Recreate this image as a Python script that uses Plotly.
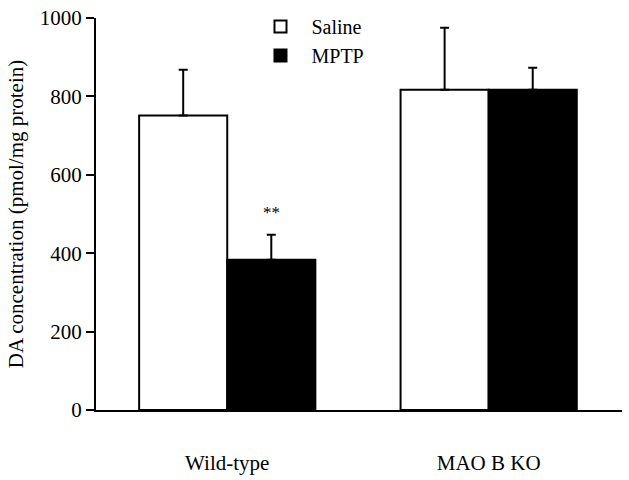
import plotly.graph_objects as go

groups = ["Wild-type", "MAO B KO"]
saline_mean = [751, 817]
saline_se = [117, 158]
mptp_mean = [383, 817]
mptp_se = [64, 56]
sig_labels = ["**", ""]

FONT = "Liberation Serif, Times New Roman, serif"

fig = go.Figure()
fig.add_trace(go.Bar(
    name="Saline", x=groups, y=saline_mean,
    marker=dict(color="white", line=dict(color="black", width=2)),
    error_y=dict(type="data", array=saline_se, arrayminus=[0, 0], symmetric=False,
                 color="black", thickness=2, width=4.5),
))
fig.add_trace(go.Bar(
    name="MPTP", x=groups, y=mptp_mean,
    marker=dict(color="black", line=dict(color="black", width=2)),
    error_y=dict(type="data", array=mptp_se, arrayminus=[0, 0], symmetric=False,
                 color="black", thickness=2, width=4.5),
))

bargap = 0.326
bw = (1 - bargap) / 2
for i, lab in enumerate(sig_labels):
    if lab:
        fig.add_annotation(x=i + bw / 2, y=mptp_mean[i] + mptp_se[i], text=lab,
                           showarrow=False, yanchor="bottom", yshift=11,
                           font=dict(family=FONT, size=17, color="black"))

fig.update_layout(
    width=629, height=480,
    margin=dict(l=96, r=7, t=16, b=70),
    paper_bgcolor="white", plot_bgcolor="white",
    barmode="group", bargap=bargap, bargroupgap=0,
    font=dict(family=FONT, size=21, color="black"),
    showlegend=True,
    legend=dict(x=0.2918, y=1.028, xanchor="left", yanchor="top", itemwidth=52,
                bgcolor="rgba(0,0,0,0)", font=dict(family=FONT, size=20)),
)
fig.update_xaxes(showline=True, linecolor="black", linewidth=2, ticks="",
                 range=[-0.502, 1.51], ticklabelstandoff=33, showgrid=False,
                 automargin=False, ticklabeloverflow="allow")
fig.update_yaxes(range=[0, 1000], tickvals=[0, 200, 400, 600, 800, 1000],
                 showline=True, linecolor="black", linewidth=2,
                 ticks="outside", ticklen=8, tickwidth=2, tickcolor="black",
                 showgrid=False, zeroline=False, automargin=False,
                 ticklabeloverflow="allow",
                 title=dict(text="DA concentration (pmol/mg protein)", standoff=10,
                            font=dict(family=FONT, size=21)))

fig.write_html(
    "out.html",
    config={"displayModeBar": False},
    post_script="document.body.style.margin='0';document.body.style.overflow='hidden';",
)
